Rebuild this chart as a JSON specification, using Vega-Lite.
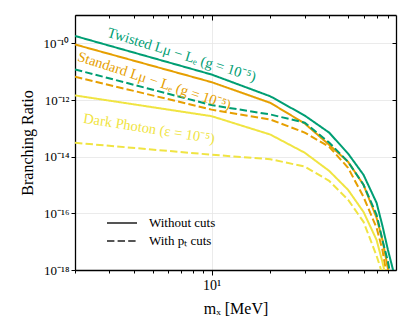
{
  "$schema": "https://vega.github.io/schema/vega-lite/v6.json",
  "width": 321,
  "height": 255,
  "autosize": {"type": "none"},
  "padding": {"left": 75, "top": 15, "right": 16, "bottom": 59},
  "background": "white",
  "config": {
    "view": {"stroke": null},
    "axis": {
      "domainColor": "black",
      "domainWidth": 1.3,
      "tickColor": "black",
      "tickWidth": 1,
      "gridColor": "#e6e6e6",
      "gridWidth": 0.8,
      "labelFont": "Liberation Serif",
      "labelFontSize": 13,
      "labelColor": "black",
      "titleFont": "Liberation Serif",
      "titleFontSize": 16,
      "titleFontWeight": "normal",
      "titleColor": "black"
    },
    "text": {"font": "Liberation Serif"}
  },
  "datasets": {
    "curves": [
      {"model": "Twisted", "cuts": "Without cuts", "m": 2, "br": 1.82e-10},
      {"model": "Twisted", "cuts": "Without cuts", "m": 10, "br": 7.94e-12},
      {"model": "Twisted", "cuts": "Without cuts", "m": 20, "br": 1.35e-12},
      {"model": "Twisted", "cuts": "Without cuts", "m": 30, "br": 2.82e-13},
      {"model": "Twisted", "cuts": "Without cuts", "m": 40, "br": 7.08e-14},
      {"model": "Twisted", "cuts": "Without cuts", "m": 50, "br": 1.29e-14},
      {"model": "Twisted", "cuts": "Without cuts", "m": 60, "br": 2.29e-15},
      {"model": "Twisted", "cuts": "Without cuts", "m": 70, "br": 2.34e-16},
      {"model": "Twisted", "cuts": "Without cuts", "m": 75, "br": 3.63e-17},
      {"model": "Twisted", "cuts": "Without cuts", "m": 80, "br": 5.13e-18},
      {"model": "Twisted", "cuts": "Without cuts", "m": 85, "br": 1.0e-18},
      {"model": "Twisted", "cuts": "Without cuts", "m": 87, "br": 2.5e-19},
      {"model": "Standard", "cuts": "Without cuts", "m": 2, "br": 9.12e-11},
      {"model": "Standard", "cuts": "Without cuts", "m": 10, "br": 4.27e-12},
      {"model": "Standard", "cuts": "Without cuts", "m": 20, "br": 7.94e-13},
      {"model": "Standard", "cuts": "Without cuts", "m": 30, "br": 1.48e-13},
      {"model": "Standard", "cuts": "Without cuts", "m": 40, "br": 2.63e-14},
      {"model": "Standard", "cuts": "Without cuts", "m": 50, "br": 6.61e-15},
      {"model": "Standard", "cuts": "Without cuts", "m": 60, "br": 1.02e-15},
      {"model": "Standard", "cuts": "Without cuts", "m": 70, "br": 6.92e-17},
      {"model": "Standard", "cuts": "Without cuts", "m": 75, "br": 1.15e-17},
      {"model": "Standard", "cuts": "Without cuts", "m": 80, "br": 1.12e-18},
      {"model": "Standard", "cuts": "Without cuts", "m": 82, "br": 4.0e-19},
      {"model": "Twisted", "cuts": "With pₜ cuts", "m": 2, "br": 1.20e-11},
      {"model": "Twisted", "cuts": "With pₜ cuts", "m": 10, "br": 6.61e-13},
      {"model": "Twisted", "cuts": "With pₜ cuts", "m": 20, "br": 3.09e-13},
      {"model": "Twisted", "cuts": "With pₜ cuts", "m": 30, "br": 1.58e-13},
      {"model": "Twisted", "cuts": "With pₜ cuts", "m": 40, "br": 3.16e-14},
      {"model": "Twisted", "cuts": "With pₜ cuts", "m": 50, "br": 6.61e-15},
      {"model": "Twisted", "cuts": "With pₜ cuts", "m": 60, "br": 1.02e-15},
      {"model": "Twisted", "cuts": "With pₜ cuts", "m": 70, "br": 8.91e-17},
      {"model": "Twisted", "cuts": "With pₜ cuts", "m": 75, "br": 1.15e-17},
      {"model": "Twisted", "cuts": "With pₜ cuts", "m": 80, "br": 2.0e-18},
      {"model": "Twisted", "cuts": "With pₜ cuts", "m": 82, "br": 7.9e-19},
      {"model": "Twisted", "cuts": "With pₜ cuts", "m": 83, "br": 4.0e-19},
      {"model": "Standard", "cuts": "With pₜ cuts", "m": 2, "br": 6.61e-12},
      {"model": "Standard", "cuts": "With pₜ cuts", "m": 10, "br": 4.57e-13},
      {"model": "Standard", "cuts": "With pₜ cuts", "m": 20, "br": 2.04e-13},
      {"model": "Standard", "cuts": "With pₜ cuts", "m": 30, "br": 7.08e-14},
      {"model": "Standard", "cuts": "With pₜ cuts", "m": 40, "br": 2.24e-14},
      {"model": "Standard", "cuts": "With pₜ cuts", "m": 50, "br": 4.07e-15},
      {"model": "Standard", "cuts": "With pₜ cuts", "m": 60, "br": 3.80e-16},
      {"model": "Standard", "cuts": "With pₜ cuts", "m": 70, "br": 3.09e-17},
      {"model": "Standard", "cuts": "With pₜ cuts", "m": 75, "br": 5.13e-18},
      {"model": "Standard", "cuts": "With pₜ cuts", "m": 78, "br": 1.0e-18},
      {"model": "Standard", "cuts": "With pₜ cuts", "m": 80, "br": 4.0e-19},
      {"model": "Dark Photon", "cuts": "Without cuts", "m": 2, "br": 1.45e-12},
      {"model": "Dark Photon", "cuts": "Without cuts", "m": 10, "br": 2.69e-13},
      {"model": "Dark Photon", "cuts": "Without cuts", "m": 20, "br": 6.03e-14},
      {"model": "Dark Photon", "cuts": "Without cuts", "m": 30, "br": 1.38e-14},
      {"model": "Dark Photon", "cuts": "Without cuts", "m": 40, "br": 3.16e-15},
      {"model": "Dark Photon", "cuts": "Without cuts", "m": 50, "br": 6.76e-16},
      {"model": "Dark Photon", "cuts": "Without cuts", "m": 60, "br": 1.12e-16},
      {"model": "Dark Photon", "cuts": "Without cuts", "m": 70, "br": 1.15e-17},
      {"model": "Dark Photon", "cuts": "Without cuts", "m": 75, "br": 1.91e-18},
      {"model": "Dark Photon", "cuts": "Without cuts", "m": 77, "br": 8.5e-19},
      {"model": "Dark Photon", "cuts": "Without cuts", "m": 78, "br": 4.0e-19},
      {"model": "Dark Photon", "cuts": "With pₜ cuts", "m": 2, "br": 3.09e-14},
      {"model": "Dark Photon", "cuts": "With pₜ cuts", "m": 10, "br": 1.17e-14},
      {"model": "Dark Photon", "cuts": "With pₜ cuts", "m": 20, "br": 8.13e-15},
      {"model": "Dark Photon", "cuts": "With pₜ cuts", "m": 30, "br": 4.47e-15},
      {"model": "Dark Photon", "cuts": "With pₜ cuts", "m": 40, "br": 1.41e-15},
      {"model": "Dark Photon", "cuts": "With pₜ cuts", "m": 50, "br": 3.02e-16},
      {"model": "Dark Photon", "cuts": "With pₜ cuts", "m": 60, "br": 5.01e-17},
      {"model": "Dark Photon", "cuts": "With pₜ cuts", "m": 70, "br": 3.16e-18},
      {"model": "Dark Photon", "cuts": "With pₜ cuts", "m": 73, "br": 1.29e-18},
      {"model": "Dark Photon", "cuts": "With pₜ cuts", "m": 75, "br": 6.6e-19}
    ]
  },
  "layer": [
    {
      "data": {"name": "curves"},
      "mark": {"type": "line", "strokeWidth": 2, "clip": true},
      "encoding": {
        "x": {
          "field": "m", "type": "quantitative",
          "scale": {"type": "log", "domain": [2, 88], "nice": false},
          "axis": {
            "orient": "bottom",
            "title": "mₓ [MeV]",
            "titlePadding": 8,
            "values": [2, 3, 4, 5, 6, 7, 8, 9, 10, 20, 30, 40, 50, 60, 70, 80],
            "labelExpr": "datum.value == 10 ? '10¹' : ''",
            "labelOverlap": false,
            "labelFlush": false,
            "labelPadding": 3,
            "labelFontSize": 14,
            "tickSize": {"condition": {"test": "datum.value == 10", "value": 5}, "value": 3},
            "grid": true,
            "gridOpacity": {"condition": {"test": "datum.value == 10", "value": 1}, "value": 0}
          }
        },
        "y": {
          "field": "br", "type": "quantitative",
          "scale": {"type": "log", "domain": [1e-18, 1e-9], "nice": false},
          "axis": {
            "orient": "left",
            "title": "Branching Ratio",
            "titlePadding": 8,
            "values": [1e-18, 1e-16, 1e-14, 1e-12, 1e-10],
            "labelExpr": "round(log(datum.value)/LN10) == -10 ? '10⁻¹⁰' : round(log(datum.value)/LN10) == -12 ? '10⁻¹²' : round(log(datum.value)/LN10) == -14 ? '10⁻¹⁴' : round(log(datum.value)/LN10) == -16 ? '10⁻¹⁶' : '10⁻¹⁸'",
            "tickSize": 4,
            "labelPadding": 2,
            "grid": true
          }
        },
        "color": {
          "field": "model", "type": "nominal",
          "scale": {"domain": ["Twisted", "Standard", "Dark Photon"], "range": ["#009E73", "#E69F00", "#F0E442"]},
          "legend": null
        },
        "strokeDash": {
          "field": "cuts", "type": "nominal",
          "scale": {"domain": ["Without cuts", "With pₜ cuts"], "range": [[1, 0], [7.4, 3.2]]},
          "legend": {
            "orient": "none",
            "legendX": 36,
            "legendY": 197,
            "title": null,
            "padding": 0,
            "rowPadding": 0,
            "symbolType": "M-1.5,0H1.5",
            "symbolSize": 400,
            "symbolStrokeColor": "#555555",
            "symbolFillColor": "transparent",
            "symbolStrokeWidth": 2,
            "labelFont": "Liberation Serif",
            "labelFontSize": 13,
            "labelColor": "black",
            "labelOffset": 16
          }
        }
      }
    },
    {
      "data": {"name": "curves"},
      "mark": {"type": "point", "opacity": 0},
      "encoding": {
        "x": {
          "field": "m", "type": "quantitative",
          "axis": {
            "orient": "top", "title": null, "labels": false, "grid": false,
            "values": [2, 3, 4, 5, 6, 7, 8, 9, 10, 20, 30, 40, 50, 60, 70, 80],
            "tickSize": {"condition": {"test": "datum.value == 10", "value": -5}, "value": -3}
          }
        },
        "y": {
          "field": "br", "type": "quantitative",
          "axis": {
            "orient": "right", "title": null, "labels": false, "grid": false,
            "values": [1e-18, 1e-16, 1e-14, 1e-12, 1e-10],
            "tickSize": -4
          }
        }
      }
    },
    {
      "data": {"values": [{}]},
      "mark": {"type": "text", "text": "Twisted Lμ − Lₑ (g = 10⁻⁵)", "align": "left", "baseline": "alphabetic", "angle": 17, "fontSize": 14.5, "color": "#009E73"},
      "encoding": {
        "x": {"datum": 2.9, "type": "quantitative", "axis": null},
        "y": {"datum": 1.75e-10, "type": "quantitative", "axis": null}
      }
    },
    {
      "data": {"values": [{}]},
      "mark": {"type": "text", "text": "Standard Lμ − Lₑ (g = 10⁻⁵)", "align": "left", "baseline": "alphabetic", "angle": 18, "fontSize": 14.5, "color": "#E69F00"},
      "encoding": {
        "x": {"datum": 2.04, "type": "quantitative", "axis": null},
        "y": {"datum": 2.5e-11, "type": "quantitative", "axis": null}
      }
    },
    {
      "data": {"values": [{}]},
      "mark": {"type": "text", "text": "Dark Photon (ε = 10⁻⁵)", "align": "left", "baseline": "alphabetic", "angle": 9, "fontSize": 14.5, "color": "#F0E442"},
      "encoding": {
        "x": {"datum": 2.19, "type": "quantitative", "axis": null},
        "y": {"datum": 1.58e-13, "type": "quantitative", "axis": null}
      }
    }
  ],
  "resolve": {"axis": {"x": "independent", "y": "independent"}}
}
